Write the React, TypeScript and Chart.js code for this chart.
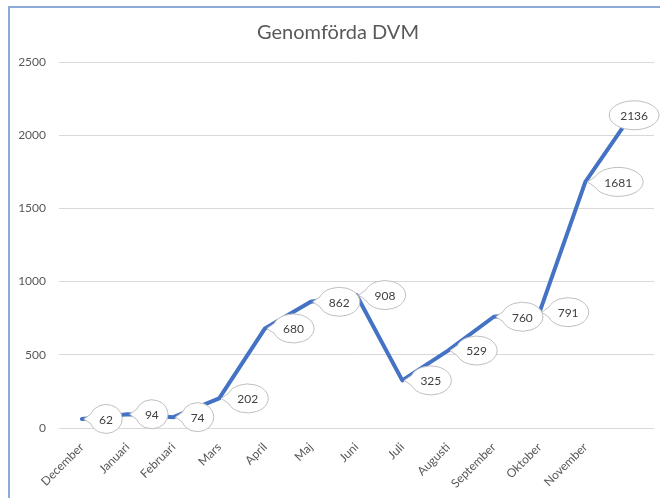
import React, { useEffect, useRef } from "react";
import { Chart, registerables } from "chart.js";

Chart.register(...registerables);

const TITLE = "Genomförda DVM";
const CATEGORIES = [
  "December",
  "Januari",
  "Februari",
  "Mars",
  "April",
  "Maj",
  "Juni",
  "Juli",
  "Augusti",
  "September",
  "Oktober",
  "November",
  "",
];
const VALUES = [62, 94, 74, 202, 680, 862, 908, 325, 529, 760, 791, 1681, 2136];
const Y_MIN = 0;
const Y_MAX = 2500;
const Y_STEP = 500;

const FONT = "Lato";
const TEXT_GREY = "#595959";

const titlePlugin = {
  id: "manualTitle",
  afterDraw(chart: any) {
    const ctx = chart.ctx as CanvasRenderingContext2D;
    ctx.save();
    ctx.font = `20px ${FONT}`;
    ctx.fillStyle = TEXT_GREY;
    ctx.textAlign = "center";
    ctx.textBaseline = "middle";
    ctx.fillText(TITLE, 338, 33);
    ctx.restore();
  },
};

const calloutPlugin = {
  id: "callouts",
  afterDatasetsDraw(chart: any) {
    const meta = chart.getDatasetMeta(0);
    const ctx = chart.ctx as CanvasRenderingContext2D;
    const maxRight = chart.width - 1;
    ctx.save();
    ctx.font = `12px ${FONT}`;
    meta.data.forEach((pt: any, i: number) => {
      const x = pt.x;
      const y = pt.y;
      const text = String(VALUES[i]);
      const tw = ctx.measureText(text).width;
      const rx = (1.25 * tw + 15) / 2;
      const ry = 14.5;
      let cx = x + 8 + rx;
      const cy = y;
      const th = 0.35;
      let clamped = false;
      if (cx + rx > maxRight) {
        cx = maxRight - rx;
        clamped = true;
      }
      ctx.beginPath();
      if (clamped) {
        ctx.ellipse(cx, cy, rx, ry, 0, 0, 2 * Math.PI);
      } else {
        ctx.moveTo(x + 2, y);
        ctx.ellipse(cx, cy, rx, ry, 0, Math.PI + th, 3 * Math.PI - th);
      }
      ctx.closePath();
      ctx.fillStyle = "#ffffff";
      ctx.fill();
      ctx.lineWidth = 1;
      ctx.strokeStyle = "#bfbfbf";
      ctx.stroke();
      ctx.fillStyle = "#404040";
      ctx.textAlign = "center";
      ctx.textBaseline = "middle";
      ctx.fillText(text, cx, cy + 1);
    });
    ctx.restore();
  },
};

export default function App() {
  const canvasRef = useRef<HTMLCanvasElement | null>(null);

  useEffect(() => {
    if (!canvasRef.current) return;
    const chart = new Chart(canvasRef.current, {
      type: "line",
      data: {
        labels: CATEGORIES,
        datasets: [
          {
            data: VALUES,
            borderColor: "#4472C4",
            borderWidth: 4,
            pointRadius: 0,
            borderJoinStyle: "round",
            borderCapStyle: "round",
            tension: 0,
            fill: false,
          },
        ],
      },
      options: {
        responsive: false,
        animation: false,
        layout: { padding: { left: 0, right: 6, top: 62, bottom: 0 } },
        plugins: {
          legend: { display: false },
          tooltip: { enabled: false },
          title: { display: false },
        },
        scales: {
          x: {
            offset: true,
            grid: { display: false },
            border: { display: false },
            ticks: {
              color: TEXT_GREY,
              font: { family: FONT, size: 12 },
              minRotation: 45,
              maxRotation: 45,
              autoSkip: false,
              padding: 4,
            },
            afterFit(scale: any) {
              scale.height = 70;
            },
          },
          y: {
            min: Y_MIN,
            max: Y_MAX,
            grid: { color: "#d9d9d9", lineWidth: 1, drawTicks: false },
            border: { display: false },
            ticks: {
              stepSize: Y_STEP,
              color: TEXT_GREY,
              font: { family: FONT, size: 12 },
              padding: 13,
              callback: (v: any) => String(v),
            },
            afterFit(scale: any) {
              scale.width = 59;
            },
          },
        },
      },
      plugins: [calloutPlugin, titlePlugin],
    });
    return () => chart.destroy();
  }, []);

  return (
    <div
      style={{
        position: "fixed",
        left: 0,
        top: 0,
        width: 660,
        height: 498,
        overflow: "hidden",
        background: "#ffffff",
      }}
    >
      <div
        style={{
          position: "absolute",
          left: 8,
          top: 6,
          width: 700,
          height: 600,
          borderLeft: "2px solid #8eaadb",
          borderTop: "2px solid #8eaadb",
        }}
      />
      <canvas
        ref={canvasRef}
        width={660}
        height={498}
        style={{ position: "absolute", left: 0, top: 0 }}
      />
    </div>
  );
}
